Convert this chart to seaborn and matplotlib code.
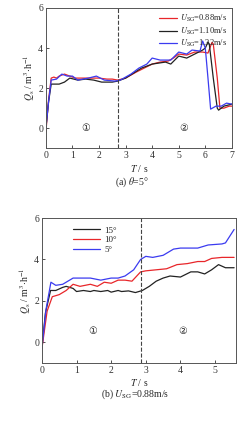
import matplotlib
matplotlib.use("Agg")
import matplotlib.pyplot as plt
import pandas as pd
import seaborn as sns

# (a) theta = 5 deg, three gas velocities
t_088 = [0, 0.1, 0.2, 0.3, 0.4, 0.5, 0.7, 0.9, 1.1, 1.4, 1.7, 2.0, 2.3, 2.5, 2.7, 3.0, 3.4, 3.7,
         4.0, 4.3, 4.6, 4.8, 5.0, 5.3, 5.6, 5.9, 6.1, 6.25, 6.3, 6.45, 6.55, 6.7, 6.9, 7.0]
q_088 = [-0.2, 1.4, 2.5, 2.55, 2.5, 2.6, 2.7, 2.6, 2.5, 2.5, 2.5, 2.5, 2.45, 2.45, 2.4, 2.5, 2.8, 3.0,
         3.2, 3.3, 3.35, 3.5, 3.7, 3.65, 3.8, 3.8, 3.75, 4.28, 4.2, 2.5, 1.0, 1.0, 1.1, 1.1]
t_110 = [0, 0.1, 0.2, 0.35, 0.5, 0.7, 0.9, 1.2, 1.5, 1.8, 2.1, 2.5, 2.7, 3.0, 3.3, 3.6, 4.0, 4.5,
         4.7, 5.0, 5.3, 5.6, 5.9, 6.0, 6.1, 6.15, 6.3, 6.45, 6.5, 6.7, 7.0]
q_110 = [0, 1.3, 2.2, 2.2, 2.2, 2.3, 2.5, 2.4, 2.45, 2.4, 2.3, 2.3, 2.35, 2.5, 2.75, 3.0, 3.2, 3.3,
         3.2, 3.6, 3.5, 3.7, 3.9, 4.0, 4.3, 4.2, 2.5, 1.0, 0.9, 1.1, 1.2]
t_132 = [0, 0.1, 0.2, 0.4, 0.6, 0.8, 1.0, 1.2, 1.6, 1.9, 2.2, 2.6, 2.8, 3.2, 3.5, 3.8, 4.0, 4.3,
         4.7, 5.0, 5.3, 5.5, 5.8, 5.9, 6.0, 6.1, 6.2, 6.4, 6.6, 6.8, 7.0]
q_132 = [0, 1.3, 2.4, 2.45, 2.7, 2.6, 2.6, 2.4, 2.5, 2.6, 2.4, 2.35, 2.4, 2.7, 3.0, 3.2, 3.5, 3.4,
         3.4, 3.8, 3.7, 3.9, 3.85, 4.35, 4.0, 2.5, 0.95, 1.1, 1.1, 1.25, 1.2]

# (b) U_SG = 0.88 m/s, three inclinations
t_15 = [0, 0.1, 0.25, 0.4, 0.6, 0.7, 0.9, 1.0, 1.2, 1.4, 1.5, 1.7, 1.9, 2.0, 2.2, 2.3, 2.5,
        2.7, 2.9, 3.1, 3.3, 3.5, 3.7, 4.0, 4.3, 4.5, 4.7, 4.9, 5.1, 5.3, 5.55]
q_15 = [-0.3, 1.4, 2.5, 2.5, 2.65, 2.7, 2.6, 2.45, 2.5, 2.45, 2.5, 2.45, 2.5, 2.42, 2.5, 2.45, 2.48,
        2.4, 2.5, 2.7, 2.95, 3.1, 3.2, 3.15, 3.4, 3.4, 3.3, 3.5, 3.75, 3.6, 3.6]
t_10 = [0, 0.15, 0.3, 0.5, 0.7, 0.9, 1.1, 1.4, 1.6, 1.8, 2.0, 2.2, 2.4, 2.6, 2.85, 3.0, 3.3,
        3.6, 3.9, 4.2, 4.5, 4.7, 4.9, 5.2, 5.55]
q_10 = [-0.3, 1.5, 2.2, 2.3, 2.5, 2.8, 2.7, 2.8, 2.7, 2.9, 2.85, 3.0, 3.0, 2.95, 3.4, 3.45, 3.5,
        3.55, 3.75, 3.8, 3.9, 3.9, 4.05, 4.1, 4.1]
t_5 = [0, 0.12, 0.26, 0.4, 0.6, 0.9, 1.2, 1.4, 1.7, 2.0, 2.2, 2.4, 2.65, 2.85, 3.0, 3.2, 3.5,
       3.8, 4.0, 4.5, 4.8, 5.2, 5.3, 5.55]
q_5 = [-0.3, 1.6, 2.9, 2.75, 2.8, 3.1, 3.1, 3.1, 3.0, 3.1, 3.1, 3.2, 3.5, 4.0, 4.15, 4.1, 4.2,
       4.5, 4.55, 4.55, 4.7, 4.75, 4.8, 5.45]

sns.set_theme(style="white")
plt.rcParams["font.family"] = ["Liberation Serif", "DejaVu Serif"]
plt.rcParams["mathtext.fontset"] = "stix"
plt.rcParams["xtick.direction"] = "in"
plt.rcParams["ytick.direction"] = "in"
plt.rcParams["xtick.major.size"] = 2.5
plt.rcParams["ytick.major.size"] = 2.5
plt.rcParams["xtick.bottom"] = True
plt.rcParams["ytick.left"] = True

FS = 7
YLABEL = r"$Q_{\rm s}$ / m$^{3}$$\cdot$h$^{-1}$"


def style_axes(ax):
    for side in ax.spines.values():
        side.set_color("#555555")
        side.set_linewidth(0.7)
    ax.tick_params(labelsize=FS, pad=2, width=0.6, colors="#333333")
    ax.set_ylim(-1, 6)
    ax.set_yticks([0, 2, 4, 6])
    ax.set_xlabel(r"$T$ / s", fontsize=FS, labelpad=2)
    ax.set_ylabel(YLABEL, fontsize=FS, labelpad=1)


fig = plt.figure(figsize=(2.48, 4.21), dpi=100)

ax1 = fig.add_axes([0.185, 0.648, 0.750, 0.333])
sns.lineplot(x=t_088, y=q_088, color="#e8262a", lw=0.9, sort=False, ax=ax1,
             label=r"$U_{\rm SG}$=0.88m/s")
sns.lineplot(x=t_110, y=q_110, color="#222222", lw=0.9, sort=False, ax=ax1,
             label=r"$U_{\rm SG}$=1.10m/s")
sns.lineplot(x=t_132, y=q_132, color="#3b3bf0", lw=0.9, sort=False, ax=ax1,
             label=r"$U_{\rm SG}$=1.32m/s")
ax1.axvline(2.72, color="#444444", ls="--", lw=0.8)
ax1.set_xlim(0, 7)
ax1.set_xticks(range(8))
ax1.text(1.5, 0, "①", fontsize=7, ha="center", va="center", family=["DejaVu Sans"])
ax1.text(5.2, 0, "②", fontsize=7, ha="center", va="center", family=["DejaVu Sans"])
style_axes(ax1)
ax1.legend(loc="upper right", frameon=False, fontsize=6, handlelength=2.2,
           handletextpad=0.3, labelspacing=0.15, borderaxespad=0.2)

ax2 = fig.add_axes([0.169, 0.138, 0.782, 0.344])
sns.lineplot(x=t_15, y=q_15, color="#222222", lw=0.9, sort=False, ax=ax2, label="15°")
sns.lineplot(x=t_10, y=q_10, color="#e8262a", lw=0.9, sort=False, ax=ax2, label="10°")
sns.lineplot(x=t_5, y=q_5, color="#3b3bf0", lw=0.9, sort=False, ax=ax2, label="5°")
ax2.axvline(2.85, color="#444444", ls="--", lw=0.8)
ax2.set_xlim(0, 5.6)
ax2.set_xticks(range(6))
ax2.text(1.47, 0.55, "①", fontsize=7, ha="center", va="center", family=["DejaVu Sans"])
ax2.text(4.07, 0.55, "②", fontsize=7, ha="center", va="center", family=["DejaVu Sans"])
style_axes(ax2)
ax2.legend(loc="upper left", bbox_to_anchor=(0.12, 1.0), frameon=False, fontsize=6.5,
           handlelength=3.0, handletextpad=0.4, labelspacing=0.15)

fig.text(0.532, 1 - 182 / 421, r"(a) $\theta$=5°", fontsize=7, ha="center", va="center")
fig.text(0.545, 1 - 394 / 421, r"(b) $U_{\rm SG}$=0.88m/s", fontsize=7, ha="center", va="center")

fig.savefig("out.png", dpi=100)
